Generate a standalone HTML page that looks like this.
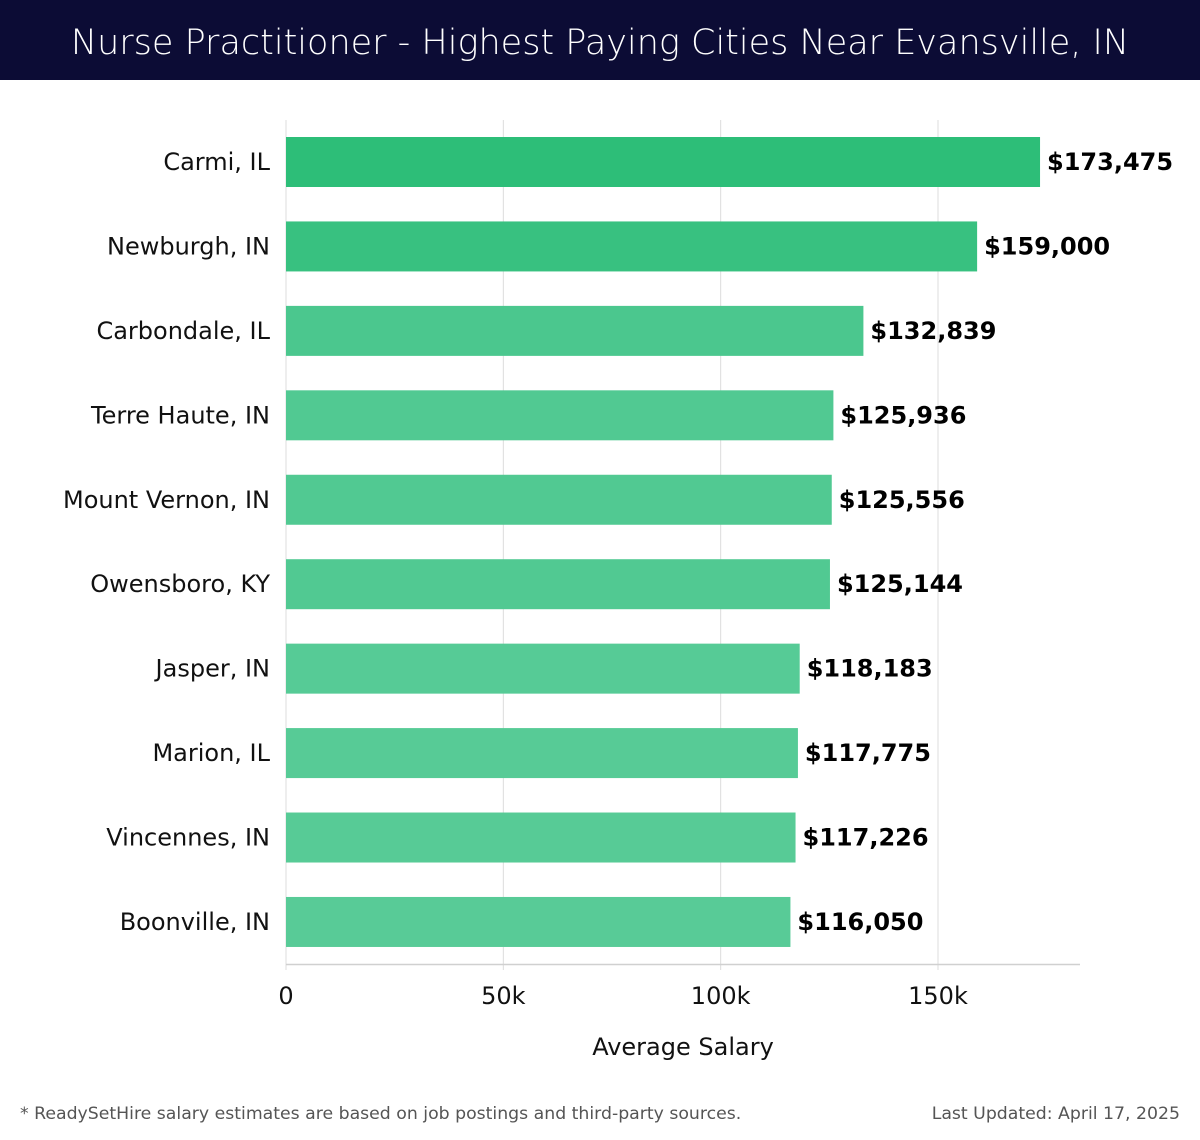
<!DOCTYPE html>
<html><head><meta charset="utf-8"><style>
body{margin:0;background:#fff;width:1200px;height:1140px;overflow:hidden;font-family:"DejaVu Sans","Liberation Sans",sans-serif}
#hdr{position:absolute;left:0;top:0;width:1200px;height:80px;background:#0c0c35;color:#fff;font-size:35px;text-align:center;line-height:86px;font-weight:300}
</style></head><body>
<div id="hdr">Nurse Practitioner - Highest Paying Cities Near Evansville, IN</div>
<svg id="chart" width="1200" height="1140" style="position:absolute;left:0;top:0"></svg>
<script>
const cities=["Carmi, IL","Newburgh, IN","Carbondale, IL","Terre Haute, IN","Mount Vernon, IN","Owensboro, KY","Jasper, IN","Marion, IL","Vincennes, IN","Boonville, IN"];
const salaries=[173475,159000,132839,125936,125556,125144,118183,117775,117226,116050];
const valueLabels=["$173,475","$159,000","$132,839","$125,936","$125,556","$125,144","$118,183","$117,775","$117,226","$116,050"];
const tickValues=[0,50000,100000,150000];
const tickLabels=["0","50k","100k","150k"];
const svg=document.getElementById('chart'),NS="http://www.w3.org/2000/svg";
const x0=286,pxPer=(938-286)/150000;
const xs=v=>x0+v*pxPer;
const y0=137,step=84.44,bh=50;
const ys=i=>y0+i*step;
function mk(t,a,txt){const e=document.createElementNS(NS,t);for(const k in a)e.setAttribute(k,a[k]);if(txt!=null)e.textContent=txt;svg.appendChild(e);return e;}
tickValues.forEach((v,i)=>{
 const g=mk('line',{x1:xs(v),x2:xs(v),y1:120,y2:970,stroke:'#dcdcdc','stroke-width':1});
 
 
 const t=mk('text',{x:xs(v),y:1004,'text-anchor':'middle','font-size':24,fill:'#111'},tickLabels[i]);
 
 
});
const ax=mk('line',{x1:286,x2:1080,y1:964.5,y2:964.5,stroke:'#d0d0d0','stroke-width':1.5});


const mx=Math.max(...salaries),mn=Math.min(...salaries);
function col(v){const f=(mx-v)/(mx-mn);const a=[45,190,120],b=[88,203,151];return 'rgb('+a.map((c,i)=>Math.round(c+(b[i]-c)*f)).join(',')+')';}
cities.forEach((c,i)=>{
 const y=ys(i);
 const r=mk('rect',{x:x0,y:y,width:xs(salaries[i])-x0,height:bh,fill:col(salaries[i])});
 
 
 const l=mk('text',{x:270,y:y+bh/2+8,'text-anchor':'end','font-size':24,fill:'#111'},c);
 
 
 const v=mk('text',{x:xs(salaries[i])+7,y:y+bh/2+8,'font-size':24,'font-weight':'bold',fill:'#000'},valueLabels[i]);
 
 
});
const xt=mk('text',{x:683,y:1055,'text-anchor':'middle','font-size':24,fill:'#111'},'Average Salary');


const f1=mk('text',{x:20,y:1119,'font-size':17.3,fill:'#555'},'* ReadySetHire salary estimates are based on job postings and third-party sources.');


const f2=mk('text',{x:1180,y:1119,'text-anchor':'end','font-size':17.3,fill:'#555'},'Last Updated: April 17, 2025');


</script>
</body></html>
